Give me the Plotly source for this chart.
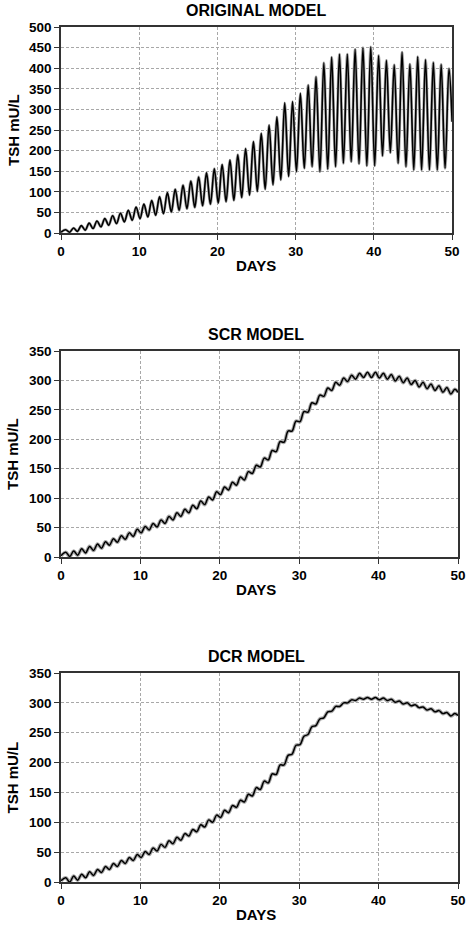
import plotly.graph_objects as go

# ---------------- data ----------------
start_day = 0.0
start_tsh = 2
end_day = 50.0

# ORIGINAL MODEL: daily peaks (at day k+0.6, k=0..49) and troughs (at day k+0.1, k=1..49)
orig_peaks = [8, 12, 18, 24, 29, 35, 42, 48, 55, 63,
              70, 79, 88, 98, 106, 116, 126, 136, 146, 156,
              166, 177, 190, 205, 222, 242, 262, 282, 316, 319,
              339, 359, 379, 413, 427, 434, 434, 446, 450, 452,
              431, 419, 408, 439, 410, 428, 421, 414, 409, 399]
orig_troughs = [2, 4, 7, 11, 15, 19, 23, 27, 31,
                35, 39, 43, 47, 51, 55, 59, 62, 66, 70,
                73, 76, 79, 86, 92, 101, 106, 117, 129, 137,
                149, 157, 161, 149, 155, 161, 169, 173, 168, 163,
                163, 187, 195, 169, 161, 153, 153, 153, 153, 157]
orig_end = 270

# SCR MODEL
scr_peaks = [8, 10, 14, 18, 22, 26, 31, 36, 41, 47,
             52, 57, 63, 69, 75, 81, 88, 95, 102, 111,
             119, 127, 136, 145, 156, 168, 181, 196, 214, 231,
             247, 262, 275, 287, 297, 304, 309, 312, 314, 314,
             312, 310, 307, 304, 300, 297, 294, 291, 288, 285]
scr_troughs = [1, 3, 7, 11, 15, 20, 25, 30, 35,
               41, 46, 51, 57, 63, 69, 75, 82, 89, 97,
               106, 114, 122, 131, 142, 153, 165, 179, 195, 214,
               230, 246, 260, 273, 283, 292, 298, 302, 305, 305,
               304, 302, 299, 296, 293, 289, 286, 283, 280, 277]
scr_end = 280

# DCR MODEL
dcr_peaks = [7, 10, 13, 17, 21, 26, 31, 36, 41, 46,
             51, 57, 63, 69, 75, 81, 88, 96, 104, 112,
             120, 128, 137, 147, 158, 169, 181, 196, 212, 229,
             244, 260, 273, 285, 294, 300, 305, 308, 309, 309,
             308, 306, 303, 300, 297, 293, 290, 287, 284, 282]
dcr_troughs = [0, 3, 7, 11, 16, 21, 26, 31, 36,
               41, 46, 52, 58, 64, 70, 77, 84, 92, 100,
               108, 116, 125, 134, 144, 155, 166, 180, 196, 214,
               230, 247, 262, 275, 286, 294, 300, 304, 306, 306,
               305, 304, 301, 298, 295, 292, 288, 285, 282, 278]
dcr_end = 279

titles = ["ORIGINAL MODEL", "SCR MODEL", "DCR MODEL"]
y_ranges = [[0, 500], [0, 350], [0, 350]]
x_ticks = [0, 10, 20, 30, 40, 50]

peak_days = [k + 0.6 for k in range(50)]
trough_days = [k + 0.1 for k in range(1, 50)]


def series(peaks, troughs, end_val):
    pts = [(start_day, start_tsh)]
    pts += list(zip(peak_days, peaks))
    pts += list(zip(trough_days, troughs))
    pts.append((end_day, end_val))
    pts.sort()
    return [p[0] for p in pts], [p[1] for p in pts]


data = [series(orig_peaks, orig_troughs, orig_end),
        series(scr_peaks, scr_troughs, scr_end),
        series(dcr_peaks, dcr_troughs, dcr_end)]

# ---------------- figure ----------------
W, H = 474, 932
ML, MR, MT, MB = 61, 8, 27, 50
PW = W - ML - MR
PH = H - MT - MB

def py(y):  # pixel y -> paper
    return (H - MB - y) / PH

def px(x):
    return (x - ML) / PW

panels = [(27, 233), (351, 557), (673, 882)]
x_right = [460, 466, 466]

fig = go.Figure()
font_family = "Liberation Sans, Arial, sans-serif"

halo_w = [2.8, 3.6, 3.6]
line_w = [1.6, 1.5, 1.5]

for i, (xs, ys) in enumerate(data):
    n = "" if i == 0 else str(i + 1)
    fig.add_trace(go.Scatter(x=xs, y=ys, mode="lines",
                             line=dict(color="#a8a8a8", width=halo_w[i], shape="spline", smoothing=1.0),
                             xaxis="x" + n, yaxis="y" + n, hoverinfo="skip", showlegend=False))
    fig.add_trace(go.Scatter(x=xs, y=ys, mode="lines",
                             line=dict(color="black", width=line_w[i], shape="spline", smoothing=1.0),
                             xaxis="x" + n, yaxis="y" + n, showlegend=False))
    top, bot = panels[i]
    axis_common = dict(showline=True, mirror=True, linecolor="#333", linewidth=1.5,
                       ticks="outside", ticklen=5, tickcolor="#333",
                       showgrid=True, gridcolor="#a8a8a8", gridwidth=1, griddash="3px,2px",
                       zeroline=False,
                       tickfont=dict(family=font_family, size=13.5, color="black", weight="bold"))
    fig.layout["xaxis" + n] = dict(axis_common, domain=[0, px(x_right[i])], range=[0, 50],
                                   tickvals=x_ticks, anchor="y" + n)
    fig.layout["yaxis" + n] = dict(axis_common, domain=[py(bot), py(top)], range=y_ranges[i],
                                   dtick=50, anchor="x" + n)
    # panel title
    fig.add_annotation(text=titles[i], xref="paper", yref="paper", x=px(260), y=py(top - 17),
                       showarrow=False, xanchor="center", yanchor="middle",
                       font=dict(family=font_family, size=16, color="black", weight="bold"))
    # x-axis title
    fig.add_annotation(text="DAYS", xref="paper", yref="paper", x=px(260), y=py(bot + 32),
                       showarrow=False, xanchor="center", yanchor="middle",
                       font=dict(family=font_family, size=15, color="black", weight="bold"))
    # y-axis title
    fig.add_annotation(text="TSH mU/L", xref="paper", yref="paper", x=px(12), y=py((top + bot) / 2),
                       showarrow=False, xanchor="center", yanchor="middle", textangle=-90,
                       font=dict(family=font_family, size=15, color="black", weight="bold"))

fig.update_layout(width=W, height=H, margin=dict(l=ML, r=MR, t=MT, b=MB),
                  paper_bgcolor="white", plot_bgcolor="white")

fig.write_html("out.html", config={"displayModeBar": False},
               post_script="document.body.style.margin='0';document.body.style.overflow='hidden';")
